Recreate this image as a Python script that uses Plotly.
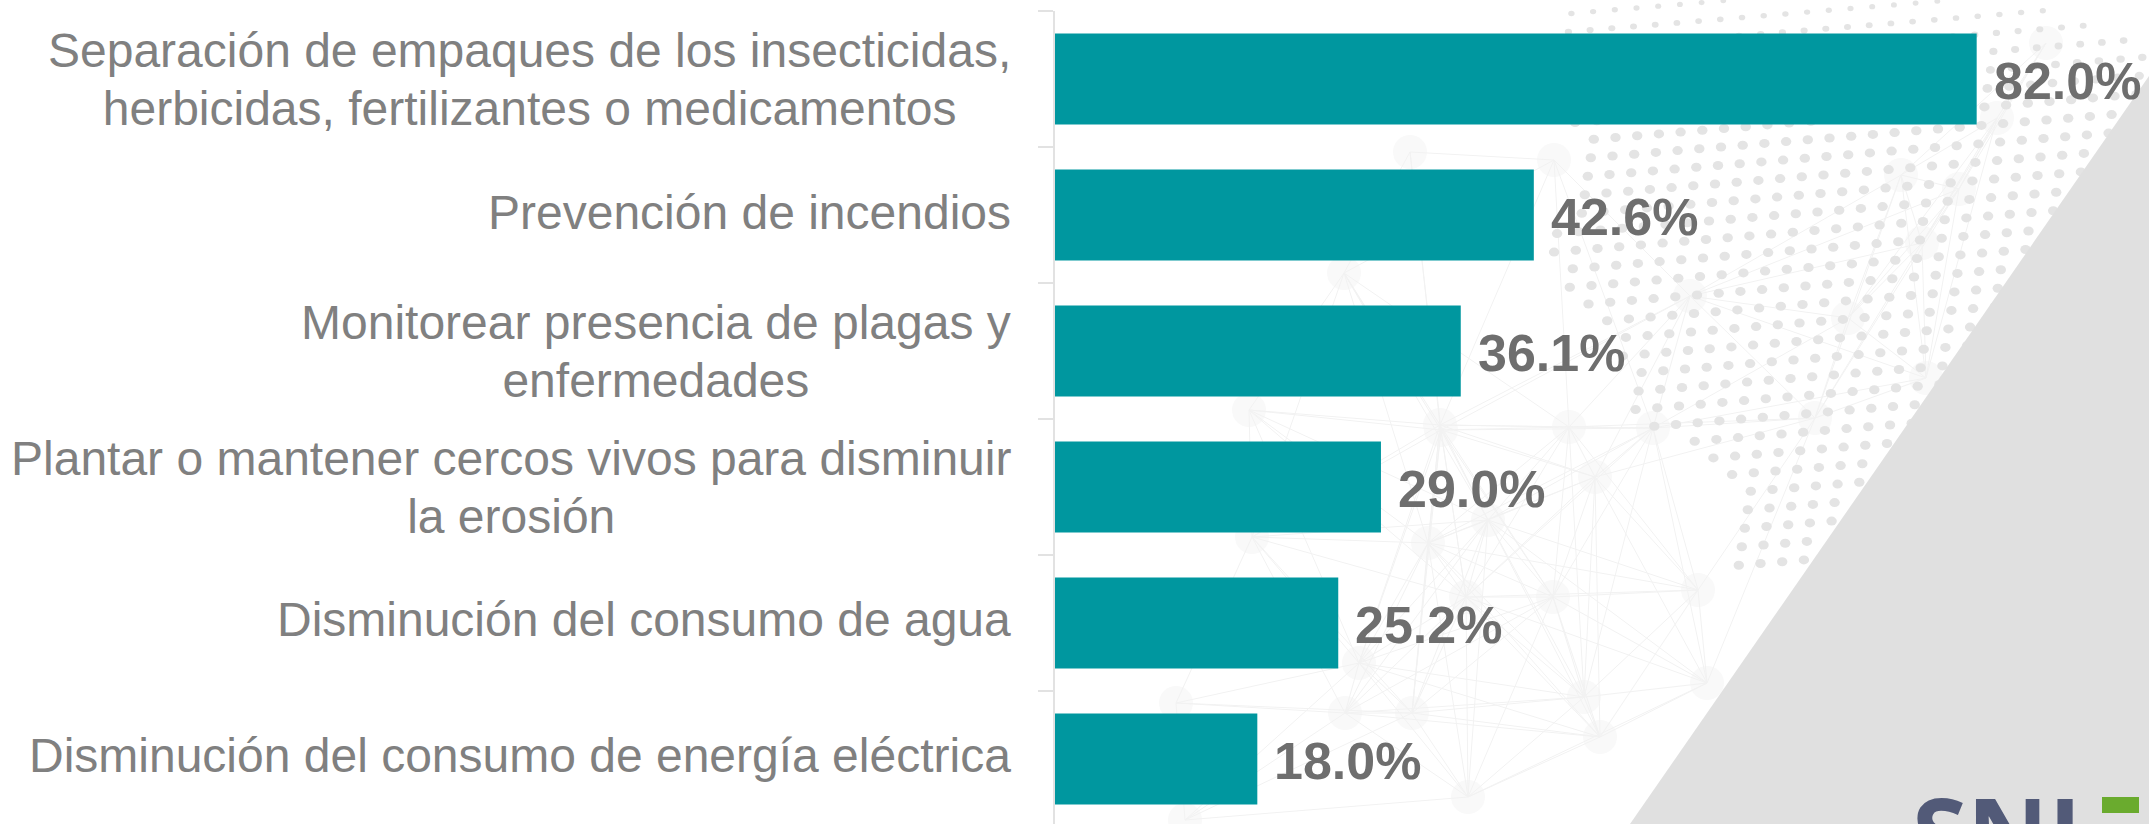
import plotly.graph_objects as go

categories = [
    "Separación de empaques de los insecticidas,<br>herbicidas, fertilizantes o medicamentos",
    "Prevención de incendios",
    "Monitorear presencia de plagas y<br>enfermedades",
    "Plantar o mantener cercos vivos para disminuir<br>la erosión",
    "Disminución del consumo de agua",
    "Disminución del consumo de energía eléctrica",
]
values = [82.0, 42.6, 36.1, 29.0, 25.2, 18.0]

W, H = 2149, 824
L, T = 1055, 11
PW, PH = W - L, H - T
FONT = "Liberation Sans"


def px(x):
    return (x - L) / PW


def py(y):
    return 1 - (y - T) / PH


def inside(x, y, poly):
    hit = False
    n = len(poly)
    for i in range(n):
        x1, y1 = poly[i]
        x2, y2 = poly[(i + 1) % n]
        if (y1 > y) != (y2 > y) and x < x1 + (y - y1) * (x2 - x1) / (y2 - y1):
            hit = not hit
    return hit


shapes = []

# Decorative background: network of faint nodes and lines
nodes = [
    (1441, 430), (1428, 543), (1488, 520), (1252, 537), (1553, 597), (1698, 590),
    (1466, 597), (1359, 663), (1176, 703), (1584, 697), (1412, 713), (1345, 713),
    (1600, 737), (1468, 797), (1707, 683), (1185, 820), (1595, 477), (1569, 427),
    (1901, 175), (1959, 189), (1848, 318), (1815, 418), (1653, 428), (1690, 296),
    (1554, 160), (1926, 378), (1922, 243), (2046, 43), (1997, 118), (1410, 152),
    (1344, 273), (1249, 410), (1440, 425),
]
for (x, y) in nodes:
    shapes.append(dict(type="circle", layer="below", xref="paper", yref="paper",
                       x0=px(x - 17), x1=px(x + 17), y0=py(y + 17), y1=py(y - 17),
                       fillcolor="#f9f9f9", line_width=0))
for i, (x1, y1) in enumerate(nodes):
    for (x2, y2) in nodes[i + 1:]:
        if (x1 - x2) ** 2 + (y1 - y2) ** 2 < 290 ** 2:
            shapes.append(dict(type="line", layer="below", xref="paper", yref="paper",
                               x0=px(x1), x1=px(x2), y0=py(y1), y1=py(y2),
                               line=dict(color="#f2f2f2", width=1)))

# Decorative background: dot field
dot_region = [
    (1560, 0), (1997, 0), (2050, 12), (2121, 34), (2149, 60), (2149, 104), (1800, 575),
    (1735, 575), (1730, 470), (1660, 432), (1625, 412), (1615, 330), (1560, 300),
    (1548, 245), (1590, 150), (1540, 60),
]
for i in range(-10, 40):
    for j in range(0, 34):
        x = 1520 + i * 21.7 - j * 3.0 + 14
        y = -20 + j * 18.5 - i * 1.8
        if inside(x, y, dot_region):
            s = min(1.0, 0.55 + y / 220)
            shapes.append(dict(type="circle", layer="below", xref="paper", yref="paper",
                               x0=px(x - 5.2 * s), x1=px(x + 5.2 * s),
                               y0=py(y + 4.5 * s), y1=py(y - 4.5 * s),
                               fillcolor="#e4e4e4", line_width=0))

# Decorative background: grey corner
shapes.append(dict(type="path", layer="below", xref="paper", yref="paper",
                   path=f"M {px(1630)} {py(824)} L {px(2149)} {py(76)} L {px(2149)} {py(824)} Z",
                   fillcolor="#e0e0e0", line_width=0))
# Logo accent
shapes.append(dict(type="rect", layer="above", xref="paper", yref="paper",
                   x0=px(2102), x1=px(2139), y0=py(813), y1=py(797),
                   fillcolor="#6aab2e", line_width=0))

fig = go.Figure(go.Bar(
    x=values, y=categories, orientation="h",
    marker=dict(color="#00979f", line_width=0),
    hoverinfo="skip",
))

annotations = []
for c, v in zip(categories, values):
    # Base font sets the line spacing; the span sets the glyph size.
    sized = "<br>".join(f'<span style="font-size:48px">{part}</span>' for part in c.split("<br>"))
    annotations.append(dict(
        x=px(1013), xref="paper", y=c, yref="y", text=sized, showarrow=False,
        xanchor="right", align="center", yshift=3 if "<br>" not in c else 0,
        font=dict(family=FONT, size=44.3, color="#808080"),
    ))
    annotations.append(dict(
        x=v, xref="x", y=c, yref="y", text=f"{v:.1f}%", showarrow=False,
        xanchor="left", xshift=15, yshift=-2,
        font=dict(family=FONT, size=52, color="#6e6e6e", weight="bold"),
    ))
annotations.append(dict(
    x=px(1910), y=py(762), xref="paper", yref="paper", text="SNI", showarrow=False,
    xanchor="left", yanchor="top",
    font=dict(family="Open Sans", size=100, color="#525a78", weight="bold"),
))

fig.update_layout(
    width=W, height=H,
    margin=dict(l=L, r=0, t=T, b=0, pad=0),
    paper_bgcolor="white", plot_bgcolor="rgba(0,0,0,0)",
    showlegend=False, bargap=0.33,
    shapes=shapes, annotations=annotations,
    xaxis=dict(range=[0, PW / 11.24], visible=False, fixedrange=True),
    yaxis=dict(
        type="category", categoryorder="array", categoryarray=categories,
        range=[5.478, -0.5], autorange=False, fixedrange=True,
        showticklabels=False, showgrid=False, zeroline=False,
        tickson="boundaries", ticks="outside", ticklen=15, tickwidth=2, tickcolor="#e2e2e2",
        showline=True, linewidth=2, linecolor="#e2e2e2",
    ),
)

fig.write_html("out.html", config=dict(displayModeBar=False),
               post_script="document.body.style.margin='0';document.body.style.overflow='hidden';")
